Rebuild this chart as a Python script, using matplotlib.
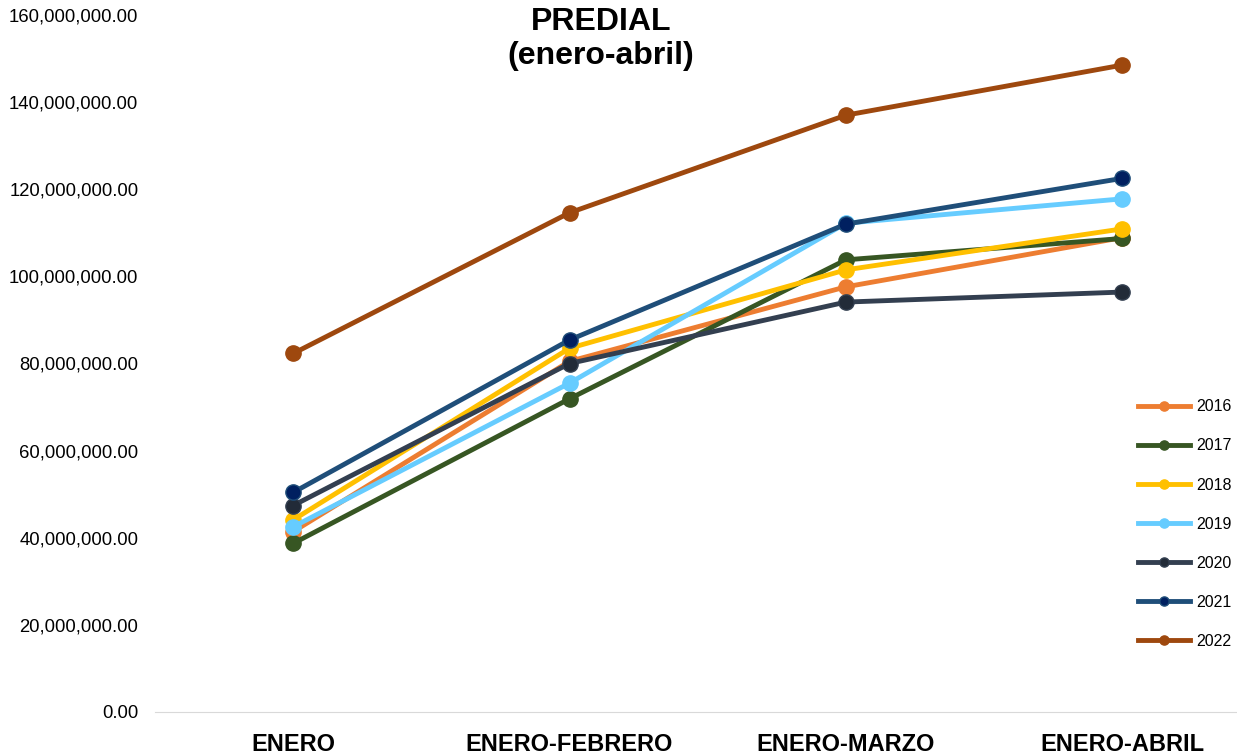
import matplotlib.pyplot as plt
from matplotlib.ticker import FuncFormatter

plt.rcParams['font.family'] = ['Liberation Sans', 'DejaVu Sans']

# periodos acumulados
periodos = ['ENERO', 'ENERO-FEBRERO', 'ENERO-MARZO', 'ENERO-ABRIL']

# recaudación acumulada por año (pesos)
y2016 = [41.4e6, 80.5e6, 97.6e6, 108.9e6]
y2017 = [38.7e6, 71.9e6, 103.8e6, 108.7e6]
y2018 = [44.1e6, 83.5e6, 101.5e6, 110.9e6]
y2019 = [42.5e6, 75.5e6, 112.2e6, 117.8e6]
y2020 = [47.4e6, 80.0e6, 94.1e6, 96.4e6]
y2021 = [50.4e6, 85.4e6, 112.0e6, 122.5e6]
y2022 = [82.3e6, 114.6e6, 137.0e6, 148.5e6]

anios = ['2016', '2017', '2018', '2019', '2020', '2021', '2022']
series = [y2016, y2017, y2018, y2019, y2020, y2021, y2022]
colores_linea = ['#ED7D31', '#375623', '#FFC000', '#66CCFF', '#333F50', '#1F4E79', '#9E480E']
colores_marca = ['#ED7D31', '#375623', '#FFC000', '#66CCFF', '#222B38', '#002060', '#9E480E']

W, H = 1237, 754
fig = plt.figure(figsize=(W / 100, H / 100), dpi=100)
ax = fig.add_axes([155 / W, 42 / H, (W - 155) / W, (712 - 15) / H])

x = range(len(periodos))
for anio, vals, cl, cm in zip(anios, series, colores_linea, colores_marca):
    ax.plot(x, vals, color=cl, linewidth=3.5, marker='o', markersize=11,
            markerfacecolor=cm, markeredgecolor=cl, markeredgewidth=1, label=anio)

ax.set_ylim(0, 160e6)
ax.set_yticks(range(0, 160000001, 20000000))
ax.yaxis.set_major_formatter(FuncFormatter(lambda v, p: f'{v:,.2f}'))
ax.set_xlim(-0.5, (W - 292) / 276.7)
ax.set_xticks(list(x))
ax.set_xticklabels(periodos, fontsize=17, fontweight='bold')
ax.tick_params(axis='both', length=0)
ax.tick_params(axis='y', labelsize=13.3, pad=12)
ax.tick_params(axis='x', pad=15)

for s in ['top', 'right', 'left']:
    ax.spines[s].set_visible(False)
ax.spines['bottom'].set_color('#D9D9D9')

fig.text(601 / W, 1 - 39 / H, 'PREDIAL\n(enero-abril)', ha='center', va='center',
         fontsize=23, fontweight='bold', linespacing=1.18)

ax.legend(loc='upper left', bbox_to_anchor=(1124 / W, 1 - 385 / H),
          bbox_transform=fig.transFigure, frameon=False, fontsize=11.5,
          labelspacing=1.51, handlelength=3.25, handletextpad=0.4, markerscale=0.6)

fig.savefig('out.png', dpi=100)
